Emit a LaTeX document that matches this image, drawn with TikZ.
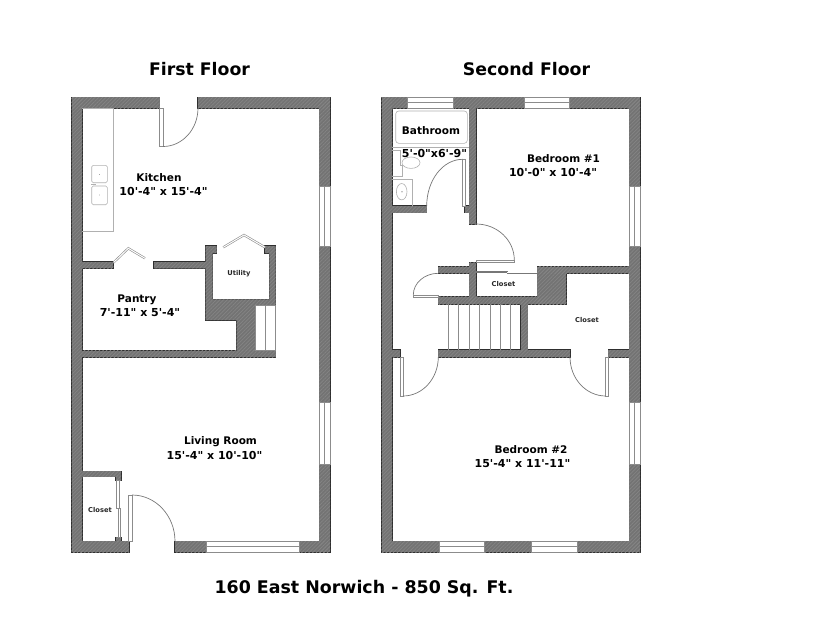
\documentclass[tikz,border=0pt]{standalone}
\usepackage{fontspec}
\setmainfont[Ligatures=TeXOff]{DejaVu Sans}
\usetikzlibrary{patterns.meta}
\definecolor{wallgray}{HTML}{737373}
\definecolor{wallhatch}{HTML}{858585}
\definecolor{walledge}{HTML}{2E2E2E}
\definecolor{fixture}{HTML}{B0B0B0}
\definecolor{leaf}{HTML}{777777}
\definecolor{leaflight}{HTML}{8C8C8C}
\tikzset{
  x=1pt,y=-1pt,
  edgelayer/.style={draw=walledge,line width=1.3pt,line join=miter},
  filllayer/.style={fill=wallgray},
  hatchlayer/.style={pattern={Lines[angle=45,distance=2.6pt,line width=.7pt]},pattern color=wallhatch},
  fix/.style={draw=fixture,line width=.6pt},
  door/.style={draw=leaflight,line width=.6pt,fill=white},
  swing/.style={draw=leaf,line width=.7pt},
  winbox/.style={fill=white,draw=none},
  winline/.style={draw=leaflight,line width=.6pt},
  title/.style={font=\fontsize{17.3}{20}\selectfont\bfseries,text=black,inner sep=0pt},
  foot/.style={font=\fontsize{17.4}{20}\selectfont\bfseries,text=black,inner sep=0pt},
  room/.style={font=\fontsize{10.5}{14}\selectfont\bfseries,text=black,inner sep=0pt,align=center},
  dim/.style={font=\fontsize{11}{14}\selectfont\bfseries,text=black,inner sep=0pt,align=center},
  small/.style={font=\fontsize{6.7}{8}\selectfont\bfseries,text=black!85,inner sep=0pt},
}
\newcommand{\allwalls}{%
  % first floor outer
  \wl{(71.7,97.3) rectangle (82.3,552)}
  \wl{(71.7,97.3) rectangle (159.7,108)}
  \wl{(198,97.3) rectangle (330,108)}
  \wl{(319.3,97.3) rectangle (330,552)}
  \wl{(71.7,541.3) rectangle (129,552)}
  \wl{(175,541.3) rectangle (330,552)}
  % first floor inner
  \wl{(82.3,262) rectangle (113.3,268.3)}
  \wl{(82.3,350.7) rectangle (275.7,357.3)}
  \wl{(82.3,471.3) rectangle (121,476.7)}
  \wl{(116,476.7) rectangle (121,480.7)}
  \wl{(116,537.3) rectangle (121,541.3)}
  \wl{(205.7,246)--(216.7,246)--(216.7,253)--(212.7,253)--(212.7,299.3)--(269.3,299.3)--(269.3,253)--(265,253)--(265,246)--(275.7,246)--(275.7,305)--(255,305)--(255,351)--(236.7,351)--(236.7,320)--(205.7,320)--(205.7,268.3)--(154,268.3)--(154,262)--(205.7,262)--cycle}
  % second floor outer
  \wl{(381.7,97.3) rectangle (392.3,552)}
  \wl{(381.7,97.3) rectangle (640,108)}
  \wl{(629.3,97.3) rectangle (640,552)}
  \wl{(381.7,541.3) rectangle (640,552)}
  % second floor inner
  \wl{(469.3,108) rectangle (476,224)}
  \wl{(392.3,206) rectangle (426.7,212.7)}
  \wl{(465,206) rectangle (470,212.7)}
  \wl{(469.3,262.7) rectangle (476,304)}
  \wl{(438.3,266.7) rectangle (470,273.3)}
  \wl{(438.3,296.7) rectangle (566.3,304)}
  \wl{(537.3,266.7) rectangle (566.3,304)}
  \wl{(537.3,266.7) rectangle (630,273.3)}
  \wl{(521,300) rectangle (527.7,351)}
  \wl{(438.3,350) rectangle (570,357)}
  \wl{(392,350) rectangle (400,357)}
  \wl{(608.3,350) rectangle (630,357)}
}
\begin{document}
\begin{tikzpicture}
\useasboundingbox (0,0) rectangle (815,630);
% walls: edge first, then fill, so that junctions show no inner lines
\def\wl#1{\path[edgelayer] #1;}\allwalls
\def\wl#1{\path[filllayer] #1;}\allwalls
\def\wl#1{\path[hatchlayer] #1;}\allwalls

% windows, first floor
\fill[winbox] (319.3,186) rectangle (330.7,246.7);
\fill[winbox] (319.3,402) rectangle (330.7,464);
\fill[winbox] (206,541.3) rectangle (299,552.7);
\draw[winline] (319.3,186) rectangle (330,246.7) (324.6,186)--(324.6,246.7);
\draw[winline] (319.3,402) rectangle (330,464) (324.6,402)--(324.6,464);
\draw[winline] (206,541.3) rectangle (299,552) (206,546.6)--(299,546.6);
% windows, second floor
\fill[winbox] (407.3,96.6) rectangle (453.3,108);
\fill[winbox] (524,96.6) rectangle (569.7,108);
\fill[winbox] (629.3,186) rectangle (640.7,246.7);
\fill[winbox] (629.3,402.7) rectangle (640.7,464);
\fill[winbox] (439,541.3) rectangle (484.3,552.7);
\fill[winbox] (531.7,541.3) rectangle (577,552.7);
\draw[winline] (407.3,97.3) rectangle (453.3,108) (407.3,102.6)--(453.3,102.6);
\draw[winline] (524,97.3) rectangle (569.7,108) (524,102.6)--(569.7,102.6);
\draw[winline] (629.3,186) rectangle (640,246.7) (634.6,186)--(634.6,246.7);
\draw[winline] (629.3,402.7) rectangle (640,464) (634.6,402.7)--(634.6,464);
\draw[winline] (439,541.3) rectangle (484.3,552) (439,546.6)--(484.3,546.6);
\draw[winline] (531.7,541.3) rectangle (577,552) (531.7,546.6)--(577,546.6);

% kitchen counter and sinks
\draw[fix] (82.3,108)--(113.7,108)--(113.7,231.3)--(82.3,231.3);
\draw[fix,rounded corners=1.5pt] (91.7,165.3) rectangle (107.3,182.7);
\draw[fix,rounded corners=1.5pt] (91.7,186) rectangle (107.3,204.7);
\fill[leaf] (99.5,174.5) circle (.4pt) (99.5,195) circle (.4pt);
\draw[fix] (91,184.4)--(96,184.4);

% kitchen door
\draw[door] (159.7,108) rectangle (163,146.5);
\draw[swing] (163,146.5) arc[start angle=90,end angle=0,x radius=35,y radius=38.5];
% bifold doors
\draw[draw=leaflight,line width=2.2pt,line join=miter] (113.6,262.5)--(128.3,248.3)--(145,258.3);
\draw[draw=white,line width=1pt,line join=miter] (113.6,262.5)--(128.3,248.3)--(145,258.3);
\draw[draw=leaflight,line width=2.2pt,line join=miter] (223.3,247.3)--(244,235)--(265,247.3);
\draw[draw=white,line width=1pt,line join=miter] (223.3,247.3)--(244,235)--(265,247.3);

% stairs, first floor
\draw[draw=leaflight,line width=.5pt] (255,305) rectangle (275.7,350.7) (265.7,305)--(265.7,350.7);

% closet and entry door, first floor
\draw[door] (116.5,480.7) rectangle (119,508.5);
\draw[door] (118.5,508.5) rectangle (120.5,537.3);
\draw[door] (128.3,495) rectangle (132,541.3);
\draw[swing] (132,495) arc[start angle=270,end angle=360,x radius=43,y radius=46.3];

% second floor: bathroom
\draw[fix,rounded corners=3pt] (395.7,111) rectangle (467.3,143.3);
\draw[fix] (392.3,147.3)--(469.3,147.3);
\draw[fix] (411,162.7) ellipse[x radius=9,y radius=5.7];
\draw[fix] (392.3,150)--(400.7,150)--(400.7,165)--(402,165)--(402,176)--(392.3,176);
\draw[fix] (392.3,179.3)--(412.3,179.3)--(412.3,206);
\draw[fix] (401.7,191.7) ellipse[x radius=5.3,y radius=8.2];
\fill[fixture] (402,191.7) circle (.8pt);
\draw[door] (462.7,159.3) rectangle (465.7,206);
\draw[swing] (426.7,206) arc[start angle=180,end angle=270,x radius=36,y radius=46.7];

% bedroom 1 door
\draw[door] (476,260) rectangle (514.3,262.4);
\draw[swing] (476,224) arc[start angle=270,end angle=360,x radius=38.3,y radius=36];
% closet sliding door
\draw[swing] (476,272.2)--(507,272.2) (507,273.3)--(537.3,273.3);
\draw[swing] (476,271)--(507,271)--(507,272.2);
% small closet door
\draw[door] (413.3,295) rectangle (438.3,297);
\draw[swing] (438.3,273.3) arc[start angle=270,end angle=180,x radius=25,y radius=21.7];

% stairs, second floor
\draw[draw=leaflight,line width=.5pt] (448.3,304)--(448.3,350) (458.7,304)--(458.7,350) (469,304)--(469,350) (479.3,304)--(479.3,350) (490,304)--(490,350) (500.3,304)--(500.3,350) (510.7,304)--(510.7,350);

% bedroom 2 doors
\draw[door] (400,357) rectangle (403,396);
\draw[swing] (403,396) arc[start angle=90,end angle=0,x radius=35.3,y radius=39];
\draw[door] (605.7,357) rectangle (608.3,396);
\draw[swing] (605.7,396) arc[start angle=90,end angle=180,x radius=35.7,y radius=39];

% labels
\node[title] (firstfloor) at (199.5,69) {First Floor};
\node[title] (secondfloor) at (526.5,69.5) {Second Floor};
\node[foot] (address) at (364,589) {160 East Norwich - 850 Sq. Ft.};
\node[room] (kitchen) at (159,178) {Kitchen};
\node[dim] (kitchendim) at (163.5,191.5) {10'-4" x 15'-4"};
\node[room] (pantry) at (137,300) {Pantry};
\node[dim] (pantrydim) at (140,313) {7'-11" x 5'-4"};
\node[small] (utility) at (239,273.5) {Utility};
\node[room] (living) at (220.5,442) {Living Room};
\node[dim] (livingdim) at (214.5,455.5) {15'-4" x 10'-10"};
\node[small] (closeta) at (100,509.5) {Closet};
\node[room] (bathroom) at (431,131) {Bathroom};
\node[dim] (bathdim) at (434.5,153.5) {5'-0"x6'-9"};
\node[room] (bedone) at (563.5,158.5) {Bedroom \#1};
\node[dim] (bedonedim) at (553,172) {10'-0" x 10'-4"};
\node[small] (closetb) at (503.5,284) {Closet};
\node[small] (closetc) at (587,320) {Closet};
\node[room] (bedtwo) at (531,449.5) {Bedroom \#2};
\node[dim] (bedtwodim) at (522.5,463.5) {15'-4" x 11'-11"};
\end{tikzpicture}
\end{document}
